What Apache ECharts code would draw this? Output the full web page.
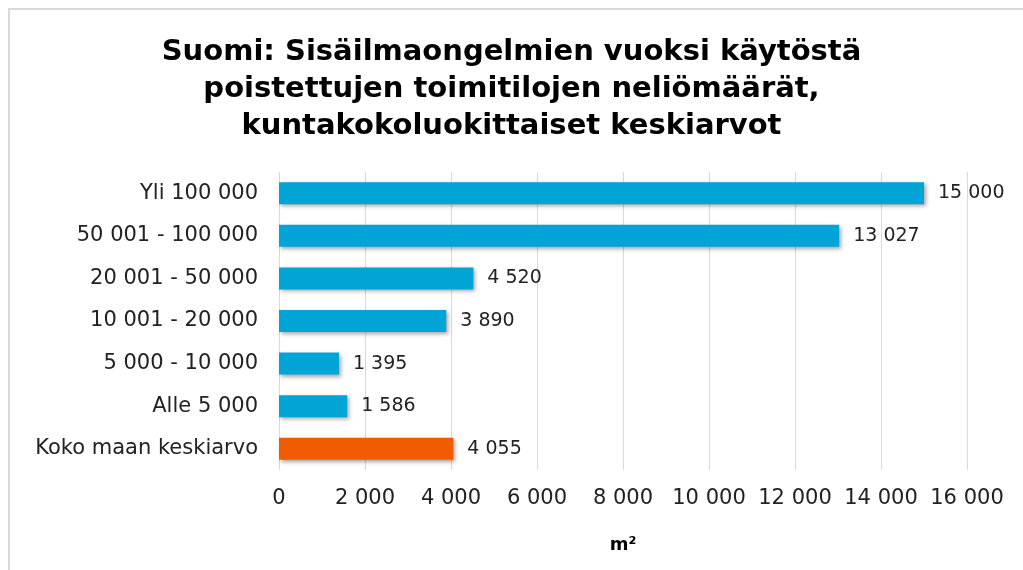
<!DOCTYPE html>
<html>
<head>
<meta charset="utf-8">
<script src="https://cdn.jsdelivr.net/npm/echarts@6/dist/echarts.min.js"></script>
<style>
  html, body { margin: 0; padding: 0; background: #fff; }
  #chart { position: absolute; left: 0; top: 0; width: 1023px; height: 570px; }
  .edge-top { position: absolute; left: 8px; top: 8px; width: 1015px; height: 2px; background: #d9d9d9; z-index: 2; }
  .edge-left { position: absolute; left: 8px; top: 8px; width: 2px; height: 562px; background: #d9d9d9; z-index: 2; }
</style>
</head>
<body>
<div id="chart"></div>
<div class="edge-top"></div>
<div class="edge-left"></div>
<script>
const categories = [
  'Yli 100 000',
  '50 001 - 100 000',
  '20 001 - 50 000',
  '10 001 - 20 000',
  '5 000 - 10 000',
  'Alle 5 000',
  'Koko maan keskiarvo'
]
const values = [15000, 13027, 4520, 3890, 1395, 1586, 4055]
const barColors = ['#00A5D5', '#00A5D5', '#00A5D5', '#00A5D5', '#00A5D5', '#00A5D5', '#F25C00']

// thousands with a space, like the original
const fmt = v => String(v).replace(/\B(?=(\d{3})+(?!\d))/g, ' ')

const chart = echarts.init(document.getElementById('chart'))

chart.setOption({
  animation: false,
  title: {
    text: 'Suomi: Sisäilmaongelmien vuoksi käytöstä\npoistettujen toimitilojen neliömäärät,\nkuntakokoluokittaiset keskiarvot',
    left: 'center',
    top: 29,
    textStyle: {
      fontFamily: 'DejaVu Sans',
      fontWeight: 'bold',
      fontSize: 29,
      lineHeight: 37,
      color: '#000'
    }
  },
  grid: {
    left: 279,
    right: 56,
    top: 172,
    bottom: 100
  },
  xAxis: {
    type: 'value',
    min: 0,
    max: 16000,
    interval: 2000,
    name: 'm²',
    nameLocation: 'middle',
    nameGap: 66,
    nameTextStyle: {
      fontFamily: 'DejaVu Sans',
      fontWeight: 'bold',
      fontSize: 18,
      color: '#000'
    },
    axisLine: { show: false },
    axisTick: { show: false },
    axisLabel: {
      margin: 18,
      fontFamily: 'DejaVu Sans',
      fontSize: 21,
      color: '#222',
      formatter: fmt
    },
    splitLine: { lineStyle: { color: '#d9d9d9', width: 1 } }
  },
  yAxis: {
    type: 'category',
    inverse: true,
    data: categories,
    axisLine: { show: false },
    axisTick: { show: false },
    axisLabel: {
      margin: 21,
      fontFamily: 'DejaVu Sans',
      fontSize: 21,
      color: '#222'
    }
  },
  series: [
    {
      type: 'bar',
      barWidth: 22,
      data: values.map((v, i) => ({
        value: v,
        itemStyle: { color: barColors[i] }
      })),
      itemStyle: {
        shadowColor: 'rgba(0, 0, 0, 0.35)',
        shadowBlur: 4,
        shadowOffsetX: 2,
        shadowOffsetY: 2
      },
      label: {
        show: true,
        position: 'right',
        distance: 14,
        fontFamily: 'DejaVu Sans',
        fontSize: 19,
        color: '#222',
        formatter: p => fmt(p.value)
      }
    }
  ]
})
</script>
</body>
</html>
